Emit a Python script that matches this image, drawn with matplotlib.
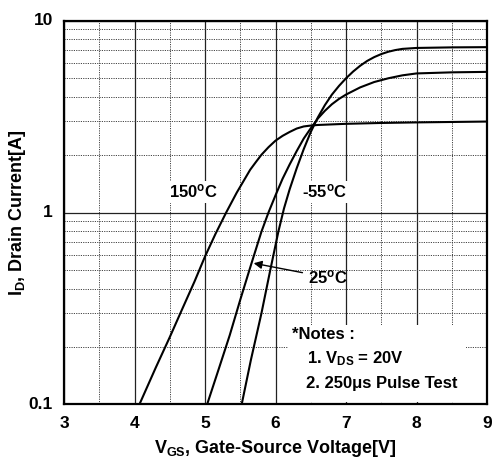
import matplotlib
matplotlib.use("Agg")
import matplotlib.pyplot as plt
from matplotlib.ticker import FixedLocator, NullFormatter
from matplotlib.patches import Rectangle

plt.rcParams["font.family"] = ["Liberation Sans", "DejaVu Sans"]
plt.rcParams["font.weight"] = "bold"
plt.rcParams["mathtext.fontset"] = "custom"
plt.rcParams["mathtext.rm"] = "Liberation Sans:bold"
plt.rcParams["mathtext.bf"] = "Liberation Sans:bold"
plt.rcParams["mathtext.it"] = "Liberation Sans:bold"
plt.rcParams["mathtext.default"] = "rm"

# curves (V_GS [V], I_D [A])
vgs_150 = [4.07, 4.3, 4.5, 4.67, 4.85, 5.0, 5.15, 5.3, 5.45, 5.64, 5.72, 5.8,
           5.9, 6.0, 6.1, 6.2, 6.3, 6.4, 6.5, 6.6, 6.8, 7.0, 7.5, 8.0, 9.0]
id_150 = [0.1, 0.155, 0.224, 0.31, 0.436, 0.59, 0.776, 1.0, 1.27, 1.67, 1.83,
          2.0, 2.19, 2.37, 2.51, 2.63, 2.74, 2.81, 2.84, 2.86, 2.88, 2.90,
          2.93, 2.95, 2.98]

vgs_25 = [5.03, 5.2, 5.35, 5.5, 5.66, 5.8, 5.9, 6.0, 6.1, 6.2, 6.3, 6.4, 6.5,
          6.6, 6.7, 6.8, 6.9, 7.0, 7.2, 7.4, 7.6, 7.8, 8.0, 8.5, 9.0]
id_25 = [0.1, 0.155, 0.229, 0.351, 0.545, 0.794, 1.0, 1.23, 1.50, 1.78, 2.09,
         2.43, 2.75, 3.09, 3.39, 3.67, 3.91, 4.12, 4.49, 4.79, 5.01, 5.19,
         5.31, 5.38, 5.41]

vgs_m55 = [5.52, 5.65, 5.8, 5.92, 6.04, 6.12, 6.2, 6.3, 6.4, 6.5, 6.6, 6.7,
           6.8, 6.9, 7.0, 7.1, 7.2, 7.3, 7.4, 7.5, 7.6, 7.7, 7.8, 8.0, 8.5, 9.0]
id_m55 = [0.1, 0.17, 0.298, 0.49, 0.794, 1.05, 1.32, 1.70, 2.14, 2.63, 3.13,
          3.63, 4.12, 4.57, 5.01, 5.43, 5.82, 6.17, 6.46, 6.70, 6.89, 7.03,
          7.13, 7.21, 7.26, 7.28]

x_ticks = [3, 4, 5, 6, 7, 8, 9]
x_tick_labels = ["3", "4", "5", "6", "7", "8", "9"]
y_ticks = [0.1, 1, 10]
y_tick_labels = ["0.1", "1", "10"]

fig = plt.figure(figsize=(4.94, 4.58), dpi=100)
ax = fig.add_axes([0.1296, 0.1172, 0.8563, 0.8376])

ax.set_yscale("log")
ax.set_xlim(3, 9)
ax.set_ylim(0.1, 10)

ax.xaxis.set_major_locator(FixedLocator(x_ticks))
ax.yaxis.set_major_locator(FixedLocator(y_ticks))
ax.xaxis.set_minor_locator(FixedLocator([v + 0.5 for v in x_ticks[:-1]]))
ax.yaxis.set_minor_locator(FixedLocator([m * d for d in (0.1, 1) for m in range(2, 10)]))
ax.tick_params(which="both", length=0, labelbottom=False, labelleft=False)

# tick labels drawn as plain bold text
xt = ax.get_xaxis_transform()
yt = ax.get_yaxis_transform()
for v, s in zip(x_ticks, x_tick_labels):
    ax.text(v, -0.049, s, transform=xt, ha="center", va="center",
            fontsize=12.5, fontweight="bold", clip_on=False)
for v, s in zip(y_ticks, y_tick_labels):
    ax.text(-0.026, v, s, transform=yt, ha="right", va="center",
            fontsize=12.5, fontweight="bold", clip_on=False)

ax.grid(which="major", color="#222222", lw=0.9, ls="-")
ax.grid(which="minor", color="#444444", lw=0.7, ls=(0, (1.2, 1.2)))
ax.set_axisbelow(True)
for sp in ax.spines.values():
    sp.set_linewidth(1.6)

ax.plot(vgs_150, id_150, color="black", lw=1.5, zorder=3)
ax.plot(vgs_25, id_25, color="black", lw=1.5, zorder=3)
ax.plot(vgs_m55, id_m55, color="black", lw=1.5, zorder=3)

box = dict(facecolor="white", edgecolor="none", pad=1.5)
ax.text(0.305, 0.554, "150$^{o}$C", transform=ax.transAxes, ha="center",
        va="center", fontsize=12, bbox=box, zorder=2)
ax.text(0.617, 0.554, "-55$^{o}$C", transform=ax.transAxes, ha="center",
        va="center", fontsize=12, bbox=box, zorder=2)

ax.annotate("25$^{o}$C", xy=(5.69, 0.544), xytext=(6.46, 0.458),
            ha="left", va="center", fontsize=12,
            arrowprops=dict(arrowstyle="-|>", color="black", lw=1.0,
                            mutation_scale=12, shrinkA=2, shrinkB=0),
            zorder=4)

ax.add_patch(Rectangle((0.53, 0.006), 0.42, 0.201, transform=ax.transAxes,
                       facecolor="white", edgecolor="none", zorder=1.5))
ax.text(0.538, 0.181, "*Notes :", transform=ax.transAxes, ha="left",
        va="center", fontsize=12, zorder=4)
ax.text(0.574, 0.120, "1. V$_{DS}$ = 20V", transform=ax.transAxes, ha="left",
        va="center", fontsize=12, zorder=4)
ax.text(0.572, 0.055, "2. 250\u03bcs Pulse Test", transform=ax.transAxes,
        ha="left", va="center", fontsize=12, zorder=4)

ax.text(0.5, -0.114, "V$_{GS}$, Gate-Source Voltage[V]", transform=ax.transAxes,
        ha="center", va="center", fontsize=13, fontweight="bold", clip_on=False)
ax.text(-0.111, 0.5, "I$_{D}$, Drain Current[A]", transform=ax.transAxes,
        ha="center", va="center", rotation=90, fontsize=13, fontweight="bold",
        clip_on=False)

fig.savefig("out.png", dpi=100)
